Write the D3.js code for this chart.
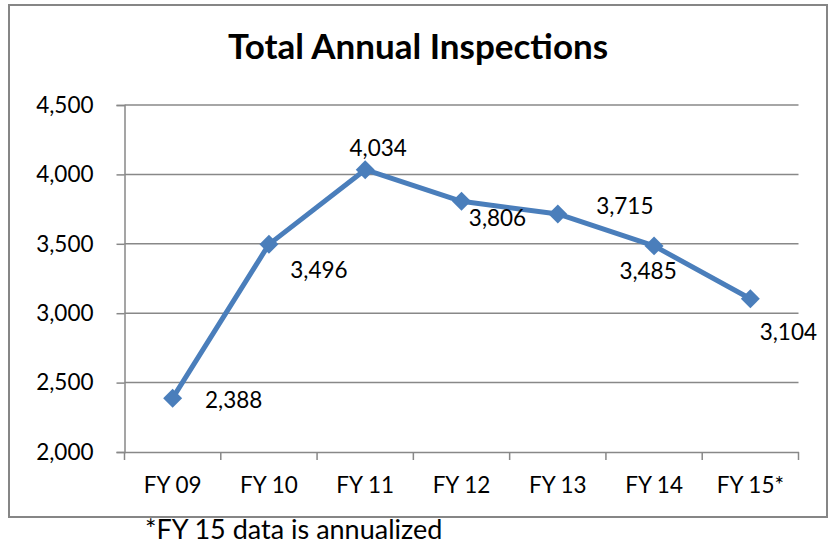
<!DOCTYPE html>
<html>
<head>
<meta charset="utf-8">
<script src="https://cdn.jsdelivr.net/npm/d3@7"></script>
<style>
  html, body { margin: 0; padding: 0; background: #fff; }
  svg { display: block; font-family: Lato, "Open Sans", sans-serif; }
</style>
</head>
<body>
<svg id="chart" width="830" height="544"></svg>
<script>
// Fiscal years and inspection totals
const years = ["FY 09", "FY 10", "FY 11", "FY 12", "FY 13", "FY 14", "FY 15*"];
const inspections = [2388, 3496, 4034, 3806, 3715, 3485, 3104];
const yTicks = [2000, 2500, 3000, 3500, 4000, 4500];
const title = "Total Annual Inspections";
const footnote = "*FY 15 data is annualized";

// Hand-placed offsets for each value label, relative to its point
const labelOffsets = [[61, 2], [50, 26], [13, -22], [36, 17], [67, -8], [-6, 25], [38, 33]];

const svg = d3.select("#chart");
const blue = "#4a7ebb";
const grid = "#888888";
const fontSize = 22.5;

// Chart frame
svg.append("rect")
  .attr("x", 9).attr("y", 5).attr("width", 818).attr("height", 512)
  .attr("fill", "#fff").attr("stroke", "#868686").attr("stroke-width", 2);

svg.append("text")
  .attr("x", 418).attr("y", 59)
  .attr("text-anchor", "middle")
  .attr("font-size", 35).attr("font-weight", "bold")
  .attr("fill", "#000")
  .text(title);

const plot = { left: 124.5, right: 798.5, top: 105, bottom: 452 };

const x = d3.scaleBand().domain(years).range([plot.left, plot.right]).paddingInner(0).paddingOuter(0);
const y = d3.scaleLinear().domain([2000, 4500]).range([plot.bottom, plot.top]);

// Horizontal gridlines
svg.append("g")
  .selectAll("line")
  .data(yTicks.filter(t => t > 2000))
  .join("line")
  .attr("x1", plot.left).attr("x2", plot.right)
  .attr("y1", d => y(d)).attr("y2", d => y(d))
  .attr("stroke", grid).attr("stroke-width", 1.5);

// Y axis
const yAxis = svg.append("g")
  .attr("transform", `translate(${plot.left},0)`)
  .call(d3.axisLeft(y).tickValues(yTicks).tickSize(8).tickPadding(23).tickFormat(d3.format(",")));
yAxis.select(".domain").attr("stroke", grid).attr("stroke-width", 1.5);
yAxis.selectAll(".tick line").attr("stroke", grid).attr("stroke-width", 1.5);
yAxis.selectAll("text").attr("font-size", fontSize).attr("fill", "#000")
  .attr("font-family", "Lato, 'Open Sans', sans-serif");

// X axis: labels centred in each band, tick marks on band edges
const xAxis = svg.append("g")
  .attr("transform", `translate(0,${plot.bottom})`)
  .call(d3.axisBottom(x).tickSize(0).tickPadding(25));
xAxis.select(".domain").attr("stroke", grid).attr("stroke-width", 1.5);
xAxis.selectAll("text").attr("font-size", fontSize).attr("fill", "#000")
  .attr("font-family", "Lato, 'Open Sans', sans-serif");

const edges = years.map(d => x(d)).concat([x(years[years.length - 1]) + x.bandwidth()]);
svg.append("g")
  .selectAll("line")
  .data(edges)
  .join("line")
  .attr("x1", d => d).attr("x2", d => d)
  .attr("y1", plot.bottom).attr("y2", plot.bottom + 8)
  .attr("stroke", grid).attr("stroke-width", 1.5);

// Series line
const points = years.map((yr, i) => ({ yr, v: inspections[i], off: labelOffsets[i] }));
const line = d3.line().x(d => x(d.yr) + x.bandwidth() / 2).y(d => y(d.v));

svg.append("path")
  .datum(points)
  .attr("d", line)
  .attr("fill", "none")
  .attr("stroke", blue)
  .attr("stroke-width", 5)
  .attr("stroke-linejoin", "round");

// Diamond markers
svg.append("g")
  .selectAll("path")
  .data(points)
  .join("path")
  .attr("transform", d => `translate(${x(d.yr) + x.bandwidth() / 2},${y(d.v)}) rotate(45)`)
  .attr("d", d3.symbol().type(d3.symbolSquare).size(180))
  .attr("fill", blue);

// Value labels
svg.append("g")
  .selectAll("text")
  .data(points)
  .join("text")
  .attr("x", d => x(d.yr) + x.bandwidth() / 2 + d.off[0])
  .attr("y", d => y(d.v) + d.off[1])
  .attr("dy", "0.36em")
  .attr("text-anchor", "middle")
  .attr("font-size", fontSize)
  .attr("fill", "#000")
  .text(d => d3.format(",")(d.v));

// Footnote below the frame
svg.append("text")
  .attr("x", 145).attr("y", 539)
  .attr("font-size", 27)
  .attr("fill", "#000")
  .text(footnote);
</script>
</body>
</html>
